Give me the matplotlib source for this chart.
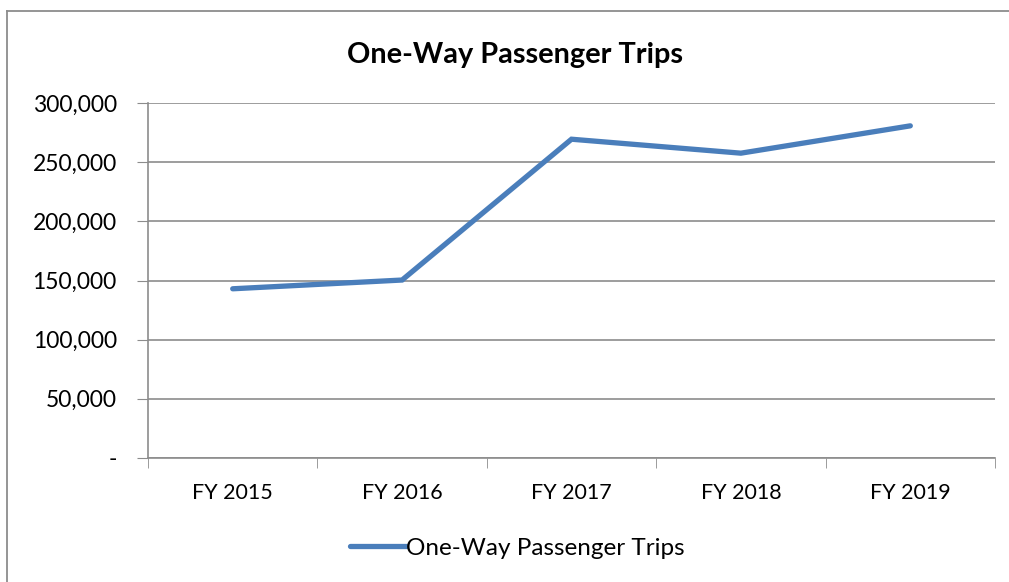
import matplotlib.pyplot as plt
from matplotlib.lines import Line2D
from matplotlib.ticker import FuncFormatter, FixedLocator

plt.rcParams["font.family"] = ["Lato", "DejaVu Sans"]

years = ["FY 2015", "FY 2016", "FY 2017", "FY 2018", "FY 2019"]
trips = [143000, 150400, 269400, 257600, 280700]

fig = plt.figure(figsize=(10.09, 5.82), dpi=100)
# outer chart frame (only top and left edges are visible in the crop)
bx, by = 6.5 / 1009, 1 - 11 / 582
fig.add_artist(Line2D([bx, bx], [-0.05, by], transform=fig.transFigure, color="#8c8c8c", lw=1.3))
fig.add_artist(Line2D([bx, 1.05], [by, by], transform=fig.transFigure, color="#8c8c8c", lw=1.3))

ax = fig.add_axes([148 / 1009, 124 / 582, 847 / 1009, 355 / 582])

x = range(len(years))
ax.plot(x, trips, color="#4A7EBB", lw=3.8, solid_capstyle="round", solid_joinstyle="miter",
        label="One-Way Passenger Trips")
ax.set_xlim(-0.5, len(years) - 0.5)
ax.set_ylim(0, 300000)
ax.set_yticks(range(0, 300001, 50000))
ax.yaxis.set_major_formatter(FuncFormatter(lambda v, p: "-" if v == 0 else f"{int(v):,}"))
ax.set_xticks(list(x))
ax.set_xticklabels(years)
ax.xaxis.set_minor_locator(FixedLocator([i - 0.5 for i in range(len(years) + 1)]))
ax.tick_params(axis="x", which="major", length=0, pad=18, labelsize=15.5)
ax.tick_params(axis="x", which="minor", length=7, color="#8c8c8c", direction="out")
ax.tick_params(axis="y", length=8, color="#8c8c8c", labelsize=16.5, pad=14.5)
ax.grid(axis="y", color="#8c8c8c", lw=1.2)
ax.set_axisbelow(True)
for s in ["top", "right"]:
    ax.spines[s].set_visible(False)
for s in ["left", "bottom"]:
    ax.spines[s].set_color("#8c8c8c")
    ax.spines[s].set_linewidth(1.2)

fig.text(0.51, 1 - 55 / 582, "One-Way Passenger Trips", ha="center", va="center",
         fontsize=20.8, fontweight="bold")
fig.legend(loc="center", bbox_to_anchor=(0.513, 1 - 548 / 582), frameon=False, fontsize=17.5,
           handlelength=2.3, handletextpad=0)

fig.savefig("out.png", dpi=100)
